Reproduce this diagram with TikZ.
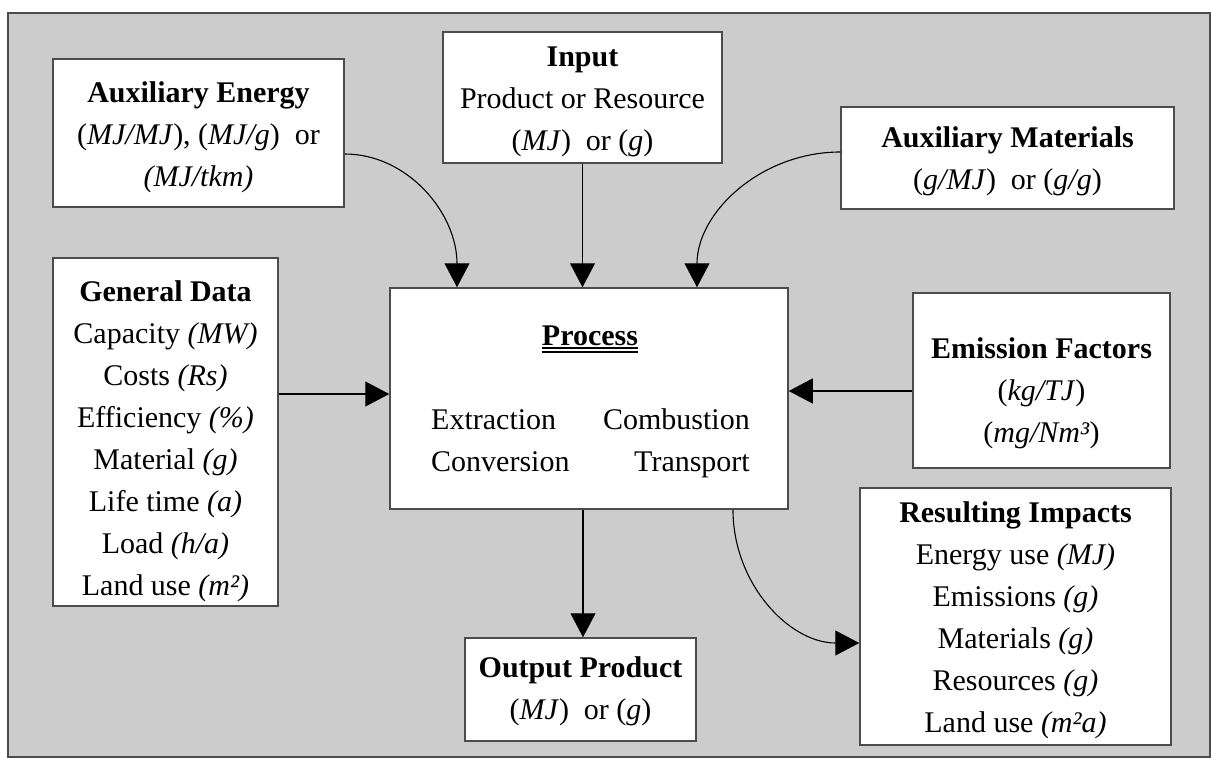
\documentclass[tikz,border=0pt]{standalone}
\usepackage{fontspec}
\setmainfont{Liberation Serif}
\usetikzlibrary{arrows.meta}
\newcommand\hstr[1]{\rule{0pt}{#1pt}}
\newcommand\dstr{\rule[-7pt]{0pt}{7pt}}
\tikzset{
 box/.style={draw=black!70, line width=1.5pt, fill=white, inner sep=0pt, align=center, font=\fontsize{30}{42}\selectfont},
 conn/.style={line width=1.1pt, -{Triangle[length=24pt,width=25pt]}},
 lbl/.style={inner sep=0pt, font=\fontsize{30}{42}\selectfont},
 uline/.style={line width=2pt},
}
\begin{document}
\begin{tikzpicture}[x=1pt,y=-1pt]
\useasboundingbox (0,0) rectangle (1211,758);
\draw[fill=black!20, draw=black!70, line width=1.5pt] (8,13) rectangle (1210,757);

\node[box, minimum width=291pt, minimum height=148pt] (auxE) at (198.5,133)
 {\hstr{29}\textbf{Auxiliary Energy}\\(\textit{MJ/MJ}), (\textit{MJ/g})~ or\\\textit{(MJ/tkm)}\dstr};
\node[box, minimum width=279pt, minimum height=131pt] (input) at (582.5,97.5)
 {\hstr{29}\textbf{Input}\\Product or Resource\\(\textit{MJ})~ or (\textit{g})\dstr};
\node[box, minimum width=333pt, minimum height=102pt] (auxM) at (1007.5,158)
 {\hstr{27}\textbf{Auxiliary Materials}\\(\textit{g/MJ})~ or (\textit{g/g})\dstr};
\node[box, minimum width=225pt, minimum height=348pt] (gen) at (165.5,432)
 {\hstr{40}\textbf{General Data}\\Capacity \textit{(MW)}\\Costs \textit{(Rs)}\\Efficiency \textit{(\%)}\\Material \textit{(g)}\\Life time \textit{(a)}\\Load \textit{(h/a)}\\Land use \textit{(m²)}\dstr};
\node[box, minimum width=398pt, minimum height=221pt] (proc) at (589,398.5) {};
\node[box, minimum width=257pt, minimum height=175pt] (emis) at (1041.5,380.5)
 {\hstr{46}\textbf{Emission Factors}\\(\textit{kg/TJ})\\(\textit{mg/Nm³})\dstr};
\node[box, minimum width=311pt, minimum height=257pt] (res) at (1015.5,616.5)
 {\hstr{28}\textbf{Resulting Impacts}\\Energy use \textit{(MJ)}\\Emissions \textit{(g)}\\Materials \textit{(g)}\\Resources \textit{(g)}\\Land use \textit{(m²a)}\dstr};
\node[box, minimum width=231pt, minimum height=103pt] (out) at (580.5,689.5)
 {\hstr{25}\textbf{Output Product}\\(\textit{MJ})~ or (\textit{g})\dstr};

\node[lbl, anchor=base] (ptitle) at (590,345) {\textbf{Process}};
\draw[uline] ([yshift=-3.3pt]ptitle.base west) -- ([yshift=-3.3pt]ptitle.base east);
\draw[uline] ([yshift=-7.3pt]ptitle.base west) -- ([yshift=-7.3pt]ptitle.base east);
\node[lbl, anchor=base west] (ext) at (431,429) {Extraction};
\node[lbl, anchor=base west] (conv) at (431,471) {Conversion};
\node[lbl, anchor=base east] (comb) at (750,429) {Combustion};
\node[lbl, anchor=base east] (trans) at (750,471) {Transport};

\draw[conn] ([yshift=-21pt]auxE.east) .. controls +(63,0) and +(0,-74) .. ([xshift=-132pt]proc.north);
\draw[conn] (input.south) -- (input.south |- proc.north);
\draw[conn] ([yshift=6pt]auxM.west) .. controls +(-79,0) and +(0,-75) .. ([xshift=108pt]proc.north);
\draw[conn] ([yshift=4.5pt]proc.west -| gen.east) -- ([yshift=4.5pt]proc.west);
\draw[conn] ([yshift=7.5pt]proc.east -| emis.west) -- ([yshift=7.5pt]proc.east);
\draw[conn] ([xshift=2.5pt]out.north |- proc.south) -- ([xshift=2.5pt]out.north);
\draw[conn] ([xshift=144pt]proc.south) .. controls +(0,74) and +(-70,0) .. ([yshift=-26.5pt]res.west);
\end{tikzpicture}
\end{document}
